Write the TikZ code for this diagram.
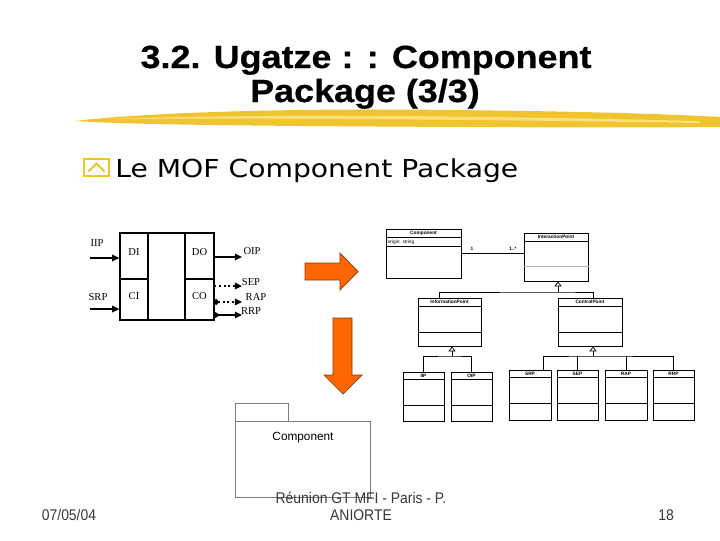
\documentclass[tikz,border=0pt]{standalone}
\usepackage{fontspec}
\setmainfont{Liberation Sans}
\newfontfamily\titlefont[FakeStretch=1.12,FakeBold=0.6]{Liberation Sans}
\newfontfamily\subfont[FakeStretch=1.14]{DejaVu Sans}
\newfontfamily\footfont[FakeStretch=0.9]{Liberation Sans}
\newfontfamily\portfont{Liberation Serif}
\usetikzlibrary{arrows.meta,fit,calc}

\definecolor{brushyellow}{RGB}{240,196,48}
\definecolor{brushlight}{RGB}{250,224,125}
\definecolor{bulletyellow}{RGB}{238,196,40}
\definecolor{arroworange}{RGB}{255,102,0}
\definecolor{arrowedge}{RGB}{140,55,0}
\definecolor{pkggrey}{RGB}{125,125,125}
\definecolor{footgrey}{RGB}{55,55,55}

\tikzset{
  cell/.style={draw, line width=0.8pt, inner sep=0pt, font=\portfont\fontsize{7.5}{8}\selectfont},
  portlbl/.style={font=\portfont\fontsize{7.5}{8}\selectfont, inner sep=0pt},
  sig/.style={line width=1.3pt, -{Triangle[length=1.8mm,width=1.6mm]}},
  sigdot/.style={sig, dotted},
  classbox/.style={draw, line width=0.7pt, fill=white, inner sep=0pt},
  umltxt/.style={font=\bfseries\fontsize{3.4}{4}\selectfont, inner sep=0pt},
  gen/.style={line width=0.5pt, -{Triangle[open,length=1.2mm,width=1.8mm]}},
  bigarrow/.style={fill=arroworange, draw=arrowedge, line width=0.5pt},
  pkgbox/.style={draw=pkggrey, line width=0.6pt, inner sep=0pt},
  foot/.style={font=\footfont\fontsize{11}{12}\selectfont, text=footgrey, inner sep=0pt, anchor=base},
}

\begin{document}
\begin{tikzpicture}[x=0.025cm, y=-0.025cm]

  \useasboundingbox (0,0) rectangle (720,540);

  % title and brush stroke
  \fill[brushyellow] (75,121) .. controls (150,112) and (300,108) .. (450,110)
    .. controls (550,111) and (650,113) .. (720,117) -- (720,127)
    .. controls (600,128) and (450,127) .. (300,126)
    .. controls (200,125) and (120,124) .. (75,121) -- cycle;
  \fill[brushlight] (110,119) .. controls (250,114) and (450,115) .. (700,121)
    -- (700,123) .. controls (450,119) and (250,118) .. (110,119) -- cycle;

  \node[font=\titlefont\bfseries\fontsize{22.8}{24}\selectfont, anchor=base] (title1) at (366,68) {3.2. Ugatze : : Component};
  \node[font=\titlefont\bfseries\fontsize{22.8}{24}\selectfont, anchor=base] (title2) at (365,102) {Package (3/3)};

  % bullet line
  \node[draw=bulletyellow, line width=2pt, fit={(84,159) (109,176)}, inner sep=0pt] (bul) {};
  \draw[bulletyellow, line width=1.5pt] ($(bul.center)+(-8,4)$) -- ($(bul.center)+(0,-4)$) -- ($(bul.center)+(8,4)$);
  \node[font=\subfont\fontsize{17.6}{20}\selectfont, anchor=base west, inner sep=0pt] (sub) at (115,177) {Le MOF Component Package};

  % component with its ports
  \node[cell, fit={(120,233) (148,279)}] (di) {DI};
  \node[cell, fit={(120,279) (148,320)}] (ci) {CI};
  \node[cell, fit={(148,233) (185,320)}] (mid) {};
  \node[cell, fit={(185,233) (214,279)}] (do) {DO};
  \node[cell, fit={(185,279) (214,320)}] (co) {CO};

  \coordinate (iipsrc) at (90,258);
  \coordinate (srpsrc) at (90,309);
  \coordinate (oipend) at (242,257);
  \coordinate (sepend) at (242,286);
  \coordinate (rapend) at (242,302);
  \coordinate (rrpend) at (242,315);

  \draw[sig] (iipsrc) -- (iipsrc -| di.west);
  \draw[sig] (srpsrc) -- (srpsrc -| ci.west);
  \draw[sig] (do.east |- oipend) -- (oipend);
  \draw[sigdot] (co.east |- sepend) -- (sepend);
  \draw[sigdot, {Circle[length=1.4mm]}-{Triangle[length=1.8mm,width=1.6mm]}] ([xshift=-0.03cm]co.east |- rapend) -- (rapend);
  \draw[sig, {Triangle[reversed,length=1.4mm,width=1.6mm]}-{Triangle[length=1.8mm,width=1.6mm]}] (co.east |- rrpend) -- (rrpend);

  \node[portlbl] (iip) at (97,243) {IIP};
  \node[portlbl] (srp) at (98,297) {SRP};
  \node[portlbl] (oip) at (252,251) {OIP};
  \node[portlbl] (sep) at (251,282) {SEP};
  \node[portlbl] (rap) at (256,297) {RAP};
  \node[portlbl] (rrp) at (251,311) {RRP};

  % orange arrows
  \filldraw[bigarrow] (305,263) -- (340,263) -- (340,253) -- (358,271.5) -- (340,290) -- (340,280) -- (305,280) -- cycle;
  \filldraw[bigarrow] (333,318) -- (352,318) -- (352,375) -- (362,375) -- (343,394) -- (324,375) -- (333,375) -- cycle;

  % class diagram
  \node[classbox, fit={(386,229) (461,278)}] (cmp) {};
  \draw[line width=0.5pt] ($(cmp.north west)+(0,9)$) -- ($(cmp.north east)+(0,9)$);
  \draw[line width=1pt] ($(cmp.north west)+(0,18)$) -- ($(cmp.north east)+(0,18)$);
  \node[umltxt] (cmp-t) at ($(cmp.north)+(0,4.5)$) {Component};
  \node[umltxt, font=\fontsize{3.4}{4}\selectfont, anchor=west] (cmp-a) at ($(cmp.north west)+(2,13.5)$) {origin: string};

  \node[classbox, fit={(524,233) (588,281)}] (ipt) {};
  \draw[line width=1pt] ($(ipt.north west)+(0,9)$) -- ($(ipt.north east)+(0,9)$);
  \draw[gray!60, line width=1pt] ($(ipt.north west)+(0,34)$) -- ($(ipt.north east)+(0,34)$);
  \node[umltxt] (ipt-t) at ($(ipt.north)+(0,4.5)$) {InteractionPoint};

  \draw[line width=0.5pt] (cmp.east) -- (cmp.east -| ipt.west);
  \node[umltxt] (one) at (472,249) {1};
  \node[umltxt] (many) at (513,249) {1..*};

  \node[classbox, fit={(418,298) (481,346)}] (inf) {};
  \node[classbox, fit={(558,298) (622,346)}] (ctl) {};
  \foreach \c/\t in {inf/InformationPoint, ctl/ControlPoint}{
    \draw[line width=1pt] ($(\c.north west)+(0,9)$) -- ($(\c.north east)+(0,9)$);
    \draw[line width=0.5pt] ($(\c.north west)+(0,35)$) -- ($(\c.north east)+(0,35)$);
    \node[umltxt] (\c-t) at ($(\c.north)+(0,4.5)$) {\t};
  }

  \coordinate (j1) at (558,292);
  \draw[gen] (j1) -- (j1 |- ipt.south);
  \draw[line width=0.5pt] (inf.north -| 439,0) |- (j1) -| (ctl.north -| 593,0);

  \node[classbox, fit={(403,372) (444,421)}] (iipc) {};
  \node[classbox, fit={(451,372) (492,421)}] (oipc) {};
  \node[classbox, fit={(509,370) (551,420)}] (srpc) {};
  \node[classbox, fit={(557,370) (598,420)}] (sepc) {};
  \node[classbox, fit={(605,370) (647,420)}] (rapc) {};
  \node[classbox, fit={(653,370) (694,420)}] (rrpc) {};
  \foreach \c/\t in {iipc/IIP, oipc/OIP, srpc/SRP, sepc/SEP, rapc/RAP, rrpc/RRP}{
    \draw[line width=1pt] ($(\c.north west)+(0,8)$) -- ($(\c.north east)+(0,8)$);
    \draw[line width=0.5pt] ($(\c.north west)+(0,34)$) -- ($(\c.north east)+(0,34)$);
    \node[umltxt] (\c-t) at ($(\c.north)+(0,4)$) {\t};
  }

  \coordinate (j2) at (452,356);
  \draw[gen] (j2) -- (j2 |- inf.south);
  \draw[line width=0.5pt] (iipc.north) |- (j2) -| (oipc.north);

  \coordinate (j3) at (593,356);
  \draw[gen] (j3) -- (j3 |- ctl.south);
  \draw[line width=0.5pt] (srpc.north -| 543,0) |- (j3) -| (rrpc.north);
  \draw[line width=0.5pt] (sepc.north) -- (sepc.north |- j3);
  \draw[line width=0.5pt] (rapc.north) -- (rapc.north |- j3);

  % package
  \node[pkgbox, fit={(235,403) (288,421)}] (tab) {};
  \node[pkgbox, fit={(235,421) (370,497)}] (pkg) {};
  \node[font=\fontsize{8.4}{10}\selectfont, inner sep=0pt] (pkg-t) at (303,438) {Component};

  % footer
  \node[foot] (date) at (69,520) {07/05/04};
  \node[foot] (meet1) at (361,503) {Réunion GT MFI - Paris - P.};
  \node[foot] (meet2) at (361,520) {ANIORTE};
  \node[foot] (page) at (666,520) {18};

\end{tikzpicture}
\end{document}
